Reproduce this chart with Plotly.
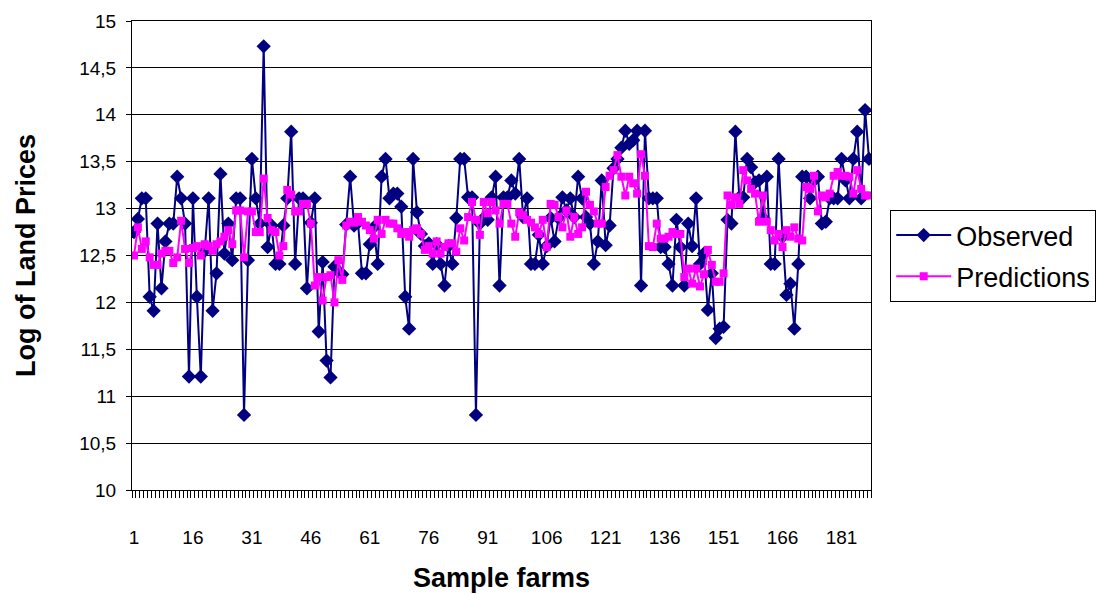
import plotly.graph_objects as go

# Sample farm index (1..188)
farms = list(range(1, 189))

# Observed log land prices
observed = [
    12.75, 12.89, 13.11, 13.11, 12.06, 11.91, 12.84, 12.15, 12.65, 12.84,
    12.84, 13.34, 13.11, 12.84, 11.21, 13.11, 12.06, 11.21, 12.55, 13.11,
    11.91, 12.31, 13.37, 12.52, 12.84, 12.45, 13.11, 13.11, 10.80, 12.45,
    13.53, 13.11, 12.84, 14.73, 12.59, 12.82, 12.41, 12.41, 12.82, 13.11,
    13.82, 12.41, 13.11, 13.11, 12.15, 12.85, 13.11, 11.69, 12.43, 11.38,
    11.20, 12.38, 12.33, 12.30, 12.83, 13.34, 12.82, 12.85, 12.31, 12.31,
    12.62, 12.80, 12.41, 13.34, 13.53, 13.11, 13.16, 13.16, 13.02, 12.06,
    11.72, 13.53, 12.96, 12.73, 12.60, 12.63, 12.41, 12.62, 12.41, 12.18,
    12.60, 12.41, 12.90, 13.53, 13.53, 13.12, 13.12, 10.80, 12.84, 12.90,
    12.88, 13.12, 13.34, 12.18, 13.12, 13.12, 13.30, 13.16, 13.53, 12.91,
    13.11, 12.41, 12.41, 12.72, 12.41, 12.60, 12.90, 12.65, 12.90, 13.12,
    12.98, 13.11, 12.91, 13.34, 13.11, 12.91, 12.84, 12.41, 12.65, 13.30,
    12.61, 12.82, 13.43, 13.53, 13.65, 13.83, 13.69, 13.73, 13.83, 12.18,
    13.83, 13.11, 13.11, 13.11, 12.59, 12.59, 12.41, 12.18, 12.88, 12.59,
    12.18, 12.84, 12.60, 13.11, 12.41, 12.52, 11.92, 12.31, 11.62, 11.72,
    11.74, 12.88, 12.84, 13.82, 13.12, 13.12, 13.53, 13.44, 13.28, 13.30,
    12.90, 13.34, 12.41, 12.41, 13.53, 12.70, 12.08, 12.20, 11.72, 12.41,
    13.34, 13.34, 13.11, 13.30, 13.34, 12.84, 12.86, 13.11, 13.11, 13.11,
    13.53, 13.30, 13.11, 13.53, 13.82, 13.11, 14.05, 13.53,
]

# Model predictions
predictions = [
    12.50, 12.80, 12.57, 12.65, 12.48, 12.40, 12.40, 12.52, 12.55, 12.55,
    12.42, 12.48, 12.87, 12.57, 12.42, 12.58, 12.60, 12.50, 12.62, 12.60,
    12.55, 12.62, 12.65, 12.70, 12.77, 12.62, 12.98, 12.98, 12.48, 12.97,
    12.97, 12.75, 12.75, 13.32, 12.90, 12.77, 12.75, 12.50, 12.60, 13.20,
    13.15, 12.97, 12.97, 13.05, 13.05, 12.84, 12.18, 12.27, 12.02, 12.27,
    12.29, 12.00, 12.45, 12.24, 12.82, 12.86, 12.85, 12.91, 12.86, 12.82,
    12.77, 12.68, 12.88, 12.73, 12.88, 12.84, 12.84, 12.79, 12.73, 12.75,
    12.70, 12.77, 12.79, 12.73, 12.56, 12.60, 12.52, 12.65, 12.52, 12.59,
    12.63, 12.63, 12.54, 12.79, 12.66, 12.91, 13.07, 12.88, 12.72, 13.07,
    12.95, 13.07, 12.98, 12.84, 13.05, 13.05, 12.84, 12.70, 12.96, 12.93,
    12.88, 12.85, 12.80, 12.73, 12.88, 12.59, 13.05, 13.04, 12.91, 12.80,
    12.98, 12.70, 12.91, 12.73, 12.80, 13.18, 13.04, 12.97, 12.84, 12.84,
    13.23, 13.35, 13.41, 13.57, 13.34, 13.14, 13.34, 13.27, 13.16, 13.58,
    13.35, 12.60, 12.59, 12.84, 12.68, 12.68, 12.70, 12.75, 12.73, 12.73,
    12.27, 12.36, 12.20, 12.36, 12.17, 12.30, 12.56, 12.40, 12.22, 12.22,
    12.31, 13.14, 13.04, 13.12, 13.05, 13.41, 13.30, 13.21, 13.16, 12.86,
    13.14, 12.86, 12.77, 12.66, 12.73, 12.59, 12.77, 12.70, 12.80, 12.68,
    12.66, 13.23, 13.21, 13.35, 12.97, 13.14, 13.12, 13.16, 13.35, 13.39,
    13.35, 13.35, 13.34, 13.16, 13.41, 13.21, 13.14, 13.14,
]

# Axis tick values and labels (comma as decimal separator)
x_tick_vals = list(range(1, 189, 15))
y_tick_vals = [10, 10.5, 11, 11.5, 12, 12.5, 13, 13.5, 14, 14.5, 15]
y_tick_text = ["10", "10,5", "11", "11,5", "12", "12,5", "13", "13,5", "14", "14,5", "15"]

FONT = "Arial, 'Liberation Sans', sans-serif"

fig = go.Figure()
fig.add_trace(go.Scatter(
    x=farms, y=observed, name="Observed", mode="lines+markers",
    legendgroup="obs",
    line=dict(color="#000080", width=2),
    marker=dict(symbol="diamond", size=11, color="#000080"),
))
fig.add_trace(go.Scatter(
    x=farms, y=predictions, name="Predictions", mode="lines+markers",
    legendgroup="pred",
    line=dict(color="#FF00FF", width=2),
    marker=dict(symbol="square", size=8, color="#FF00FF"),
))

fig.update_layout(
    width=1098, height=594,
    margin=dict(l=132, r=227, t=21, b=104, autoexpand=False),
    paper_bgcolor="white", plot_bgcolor="white",
    font=dict(family=FONT, size=19, color="black"),
    legend=dict(
        x=1.026, y=0.597, xanchor="left", yanchor="top",
        bordercolor="black", borderwidth=1,
        font=dict(size=27, family=FONT),
        tracegroupgap=3, itemwidth=55,
    ),
)

fig.update_xaxes(
    range=[0.5, 188.5], automargin=False,
    tickmode="array", tickvals=x_tick_vals,
    ticks="", ticklabelstandoff=30,
    showgrid=False, zeroline=False,
    showline=True, linecolor="black", linewidth=1, mirror=True,
    minor=dict(ticks="outside", ticklen=7, tickcolor="black", tick0=0.5, dtick=1, showgrid=False),
    title=dict(text="<b>Sample farms</b>", font=dict(size=27, family=FONT), standoff=21),
)
fig.update_yaxes(
    range=[10, 15], automargin=False,
    tickmode="array", tickvals=y_tick_vals, ticktext=y_tick_text,
    ticks="outside", ticklen=5, tickcolor="black", ticklabelstandoff=6,
    showgrid=True, gridcolor="black", gridwidth=1,
    zeroline=False,
    showline=True, linecolor="black", linewidth=1, mirror=True,
    title=dict(text="<b>Log of Land Prices</b>", font=dict(size=27, family=FONT), standoff=35),
)

fig.write_html("out.html")
